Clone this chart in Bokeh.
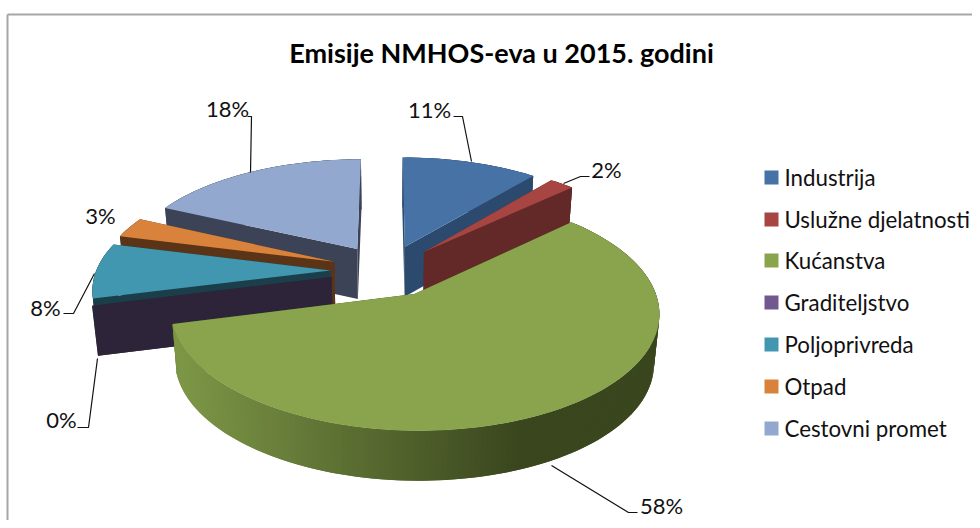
import math
from bokeh.plotting import figure
from bokeh.models import Range1d
from bokeh.core.properties import value
from bokeh.embed import file_html
from bokeh.resources import INLINE

# ---- data ----
TITLE = "Emisije NMHOS-eva u 2015. godini"
categories = ["Industrija", "Uslužne djelatnosti", "Kućanstva", "Graditeljstvo",
              "Poljoprivreda", "Otpad", "Cestovni promet"]
values = [11, 2, 58, 0, 8, 3, 18]

# ---- style ----
top_colors = ["#4672A6", "#A64541", "#89A44C", "#71588F", "#4197AF", "#D8823B", "#92A8CE"]
wall_colors = ["#2B4A6E", "#622928", "#3A461E", "#2E2439", "#1B3F4A", "#5B3417", "#3C4357"]
draw_order = [6, 5, 4, 3, 0, 1, 2]
FONT = "Lato"

# ---- projection of the pie plane to the page ----
CX, CY, RX, RY, PERSP, EXPLODE, DEPTH, SHRINK = 386, 270, 234, 108.8, 0.147, 0.24, 50, 0.98


def project(px, py):
    s = 1 / (1 + PERSP * py)
    return CX + RX * px * s, CY - RY * py * s


def lower(pt):
    return CX + (pt[0] - CX) * SHRINK, pt[1] + DEPTH


def lerp_hex(a, b, t):
    ca = [int(a[i:i + 2], 16) for i in (1, 3, 5)]
    cb = [int(b[i:i + 2], 16) for i in (1, 3, 5)]
    return "#%02x%02x%02x" % tuple(round(u + (v - u) * t) for u, v in zip(ca, cb))


p = figure(width=972, height=520, output_backend="svg", toolbar_location=None,
           x_range=Range1d(0, 972), y_range=Range1d(520, 0),
           min_border=0, outline_line_color=None, background_fill_color="white")
p.axis.visible = False
p.grid.visible = False

# chart frame
p.line([7, 7], [520, 14], line_color="#A6A6A6", line_width=2)
p.line([7, 972], [14, 14], line_color="#A6A6A6", line_width=2)

total = sum(values)
starts = [sum(values[:i]) / total * 2 * math.pi for i in range(len(values))]
xs, ys, fills = [], [], []


def add(poly, color):
    xs.append([q[0] for q in poly])
    ys.append([q[1] for q in poly])
    fills.append(color)


for i in draw_order:
    a0 = starts[i]
    a1 = a0 + values[i] / total * 2 * math.pi
    mid = (a0 + a1) / 2
    ox, oy = EXPLODE * math.sin(mid), EXPLODE * math.cos(mid)
    n = max(2, int((a1 - a0) / 0.02))
    angs = [a0 + (a1 - a0) * j / n for j in range(n + 1)]
    rim = [project(ox + math.sin(a), oy + math.cos(a)) for a in angs]
    apex = project(ox, oy)
    # straight side walls
    for r in (rim[0], rim[-1]):
        add([r, apex, lower(apex), lower(r)], wall_colors[i])
    # outer curved wall, shaded along its length; each piece overlaps the next
    for j in range(n):
        k = min(n, j + 2)
        cm = (rim[j][0] + rim[j + 1][0]) / 2
        col = wall_colors[i]
        if i == 2:
            t = min(1, max(0, (cm - 180) / 340))
            col = lerp_hex("#7C9646", wall_colors[i], t)
        add([rim[j], rim[k], lower(rim[k]), lower(rim[j])], col)
    # top face
    add([apex] + rim, top_colors[i])

p.patches(xs, ys, fill_color=fills, line_color=None)

# data labels and their leader lines
labels = ["%d%%" % v for v in values]
label_x = [429, 606, 661, 61, 45, 100, 227]
label_y = [109, 169, 505, 419, 307, 215, 108]
p.text(label_x, label_y, text=labels, text_font=value(FONT), text_font_size="22px",
       text_align="center", text_baseline="middle", text_color="#111111")
leaders_x = [[453, 462, 471], [563, 580, 589], [551, 628, 637], [77, 88, 97], [63, 73, 94], [247, 251, 250]]
leaders_y = [[116, 116, 161], [183, 176, 176], [465, 512, 512], [427, 427, 358], [313, 313, 273], [116, 116, 172]]
p.multi_line(leaders_x, leaders_y, line_color="#111111", line_width=1.2)

# title
p.text([501], [52], text=[TITLE], text_font=value(FONT), text_font_size="27px",
       text_font_style="bold", text_align="center", text_baseline="middle", text_color="#000000")

# legend
leg_y = [177, 219, 260, 302, 344, 386, 428]
for cat, col, y in zip(categories, top_colors, leg_y):
    p.quad(left=[764], right=[778], top=[y - 7], bottom=[y + 7], fill_color=col, line_color=None)
p.text([784] * len(categories), leg_y, text=categories, text_font=value(FONT),
       text_font_size="22.3px", text_align="left", text_baseline="middle", text_color="#111111")

open("out.html", "w").write(file_html(p, INLINE))
